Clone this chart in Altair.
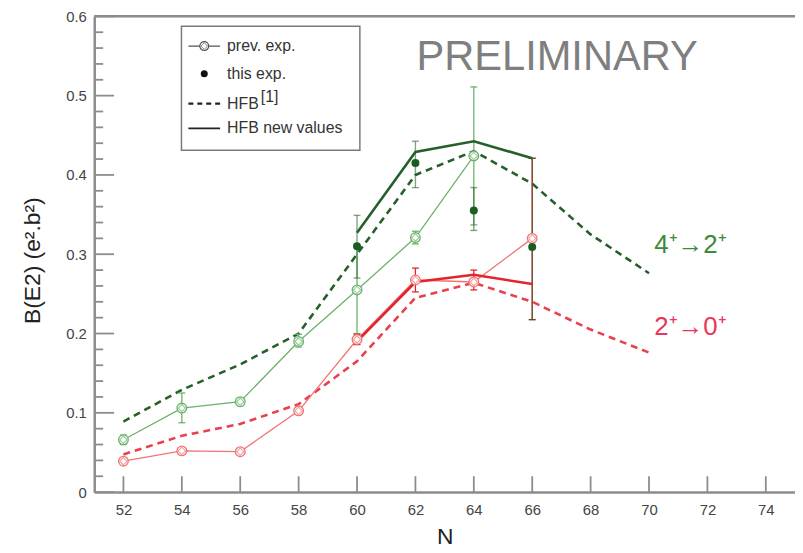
import altair as alt
import pandas as pd

# ---------------- data ----------------
# previous experiments, 4+ -> 2+
N_prev_42 = [52, 54, 56, 58, 60, 62, 64]
B_prev_42 = [0.066, 0.106, 0.114, 0.190, 0.255, 0.321, 0.424]
lo_prev_42 = [0.060, 0.0875, 0.109, 0.183, 0.200, 0.313, 0.337]
hi_prev_42 = [0.072, 0.125, 0.119, 0.199, 0.310, 0.329, 0.511]

# previous experiments, 2+ -> 0+
N_prev_20 = [52, 54, 56, 58, 60, 62, 64, 66]
B_prev_20 = [0.039, 0.052, 0.051, 0.1025, 0.1925, 0.2675, 0.265, 0.320]
lo_prev_20 = [0.035, 0.048, 0.047, 0.098, 0.186, 0.2525, 0.255, 0.2175]
hi_prev_20 = [0.043, 0.056, 0.055, 0.107, 0.199, 0.2825, 0.280, 0.421]

# this experiment (4+ -> 2+)
N_this = [60, 62, 64, 66]
B_this = [0.310, 0.415, 0.355, 0.309]
lo_this = [0.270, 0.384, 0.330, 0.2175]
hi_this = [0.349, 0.4425, 0.384, 0.421]

# HFB [1] (dashed)
N_hfb = [52, 54, 56, 58, 60, 62, 64, 66, 68, 70]
B_hfb_42 = [0.089, 0.129, 0.161, 0.200, 0.300, 0.400, 0.430, 0.389, 0.325, 0.276]
B_hfb_20 = [0.0475, 0.071, 0.086, 0.111, 0.165, 0.245, 0.264, 0.240, 0.205, 0.176]

# HFB new values (solid)
N_new = [60, 62, 64, 66]
B_new_42 = [0.327, 0.429, 0.4425, 0.421]
B_new_20 = [0.190, 0.265, 0.274, 0.2625]

# axes
x_tick_values = [52, 54, 56, 58, 60, 62, 64, 66, 68, 70, 72, 74]
y_major = [0.0, 0.1, 0.2, 0.3, 0.4, 0.5, 0.6]
y_minor = [round(m + k * 0.02, 2) for m in y_major[:-1] for k in (1, 2, 3, 4)]

# ---------------- styling ----------------
W, H = 707, 480
FONT = "Liberation Sans"
AX = "#8c8c8c"
G_LIGHT = "#6cb26c"
G_DARK = "#25602b"
G_DOT = "#1a5c22"
R_LIGHT = "#f07474"
R_DASH = "#e8404c"
R_SOLID = "#e3242b"

XS = alt.Scale(domain=[51, 75], nice=False, zero=False)
YS = alt.Scale(domain=[0, 0.6], nice=False, zero=False)
XA = alt.Axis(values=x_tick_values, format="d", ticks=False, tickSize=0, grid=False,
              labelPadding=11, labelFontSize=15, labelColor="#444", labelFont=FONT,
              domainColor=AX, domainWidth=2.5,
              titleFontSize=23, titleFont=FONT, titleFontWeight="normal", titleColor="#222",
              titleY=34, titleBaseline="top")
YA = alt.Axis(values=y_major, ticks=False, tickSize=0, grid=False,
              labelExpr="datum.value == 0 ? '0' : format(datum.value, '.1f')",
              labelPadding=8, labelFontSize=15, labelColor="#444", labelFont=FONT,
              domainColor=AX, domainWidth=2.5,
              titleFontSize=23, titleFont=FONT, titleFontWeight="normal", titleColor="#222",
              titleX=-50, titleY=246, titleAngle=270, titleBaseline="bottom", titleAlign="center")
XT = "N"
YT = "B(E2) (e².b²)"


def xe(f):
    return alt.X(f"{f}:Q", scale=XS, axis=XA, title=XT)


def ye(f):
    return alt.Y(f"{f}:Q", scale=YS, axis=YA, title=YT)


def frame(N, B, lo=None, hi=None):
    d = {"N": N, "B": B}
    if lo is not None:
        d["lo"] = lo
        d["hi"] = hi
    return pd.DataFrame(d)


prev42 = frame(N_prev_42, B_prev_42, lo_prev_42, hi_prev_42)
prev20 = frame(N_prev_20, B_prev_20, lo_prev_20, hi_prev_20)
this = frame(N_this, B_this, lo_this, hi_this)
hfb42 = frame(N_hfb, B_hfb_42)
hfb20 = frame(N_hfb, B_hfb_20)
new42 = frame(N_new, B_new_42)
new20 = frame(N_new, B_new_20)


def line(df, color, width, dash=None):
    kw = dict(color=color, strokeWidth=width, clip=True)
    if dash:
        kw["strokeDash"] = dash
    return alt.Chart(df).mark_line(**kw).encode(x=xe("N"), y=ye("B"))


def errbars(df, color, width=1.3, opacity=1.0):
    rules = alt.Chart(df).mark_rule(color=color, strokeWidth=width, opacity=opacity).encode(
        x=xe("N"), y=ye("lo"), y2="hi:Q")
    caps = alt.Chart(df).transform_fold(["lo", "hi"], as_=["k", "v"]).mark_tick(
        orient="horizontal", size=7, thickness=width, color=color, opacity=opacity).encode(
        x=xe("N"), y=ye("v"))
    return rules + caps


def open_pts(df, color):
    c = alt.Chart(df).mark_point(shape="circle", filled=False, size=95, strokeWidth=1.3,
                                 color=color, fill="white", fillOpacity=1).encode(x=xe("N"), y=ye("B"))
    d = alt.Chart(df).mark_point(shape="diamond", filled=False, size=55, strokeWidth=1.1,
                                 color=color).encode(x=xe("N"), y=ye("B"))
    return c + d


one = pd.DataFrame({"a": [0]})

ticks_major = alt.Chart(pd.DataFrame({"t": y_major})).mark_rule(color=AX, strokeWidth=1.8).encode(
    y=ye("t"), x=alt.value(0), x2=alt.value(20))
ticks_minor = alt.Chart(pd.DataFrame({"t": y_minor})).mark_rule(color=AX, strokeWidth=1.8).encode(
    y=ye("t"), x=alt.value(0), x2=alt.value(9))
ticks_x = alt.Chart(pd.DataFrame({"t": x_tick_values})).mark_rule(color=AX, strokeWidth=1.8).encode(
    x=xe("t"), y=alt.value(H), y2=alt.value(H - 16))
top_border = alt.Chart(one).mark_rule(color=AX, strokeWidth=2.5).encode(
    x=alt.value(0), x2=alt.value(W), y=alt.value(0))

prelim = alt.Chart(one).mark_text(text="PRELIMINARY", font=FONT, fontSize=42, color="#7f7f7f",
                                  align="center", baseline="alphabetic").encode(
    x=alt.value(467), y=alt.value(54))
lab42 = alt.Chart(one).mark_text(text="4⁺→2⁺", font=FONT, fontSize=26, color="#3a8a3a",
                                 align="left", baseline="alphabetic").encode(
    x=alt.value(565), y=alt.value(239))
lab20 = alt.Chart(one).mark_text(text="2⁺→0⁺", font=FONT, fontSize=26, color="#e8365a",
                                 align="left", baseline="alphabetic").encode(
    x=alt.value(565), y=alt.value(321))

# ---------------- legend (drawn) ----------------
LX0, LX1, LXC, LXT = 95, 127, 111, 134
rows = [30, 58, 88, 113]
leg_box = alt.Chart(one).mark_rect(fill="white", stroke="#7a7a7a", strokeWidth=1.5).encode(
    x=alt.value(88), x2=alt.value(268), y=alt.value(10), y2=alt.value(135))
leg_l1 = alt.Chart(one).mark_rule(color="#555", strokeWidth=1.2).encode(
    x=alt.value(LX0), x2=alt.value(LX1), y=alt.value(rows[0]))
leg_p1 = alt.Chart(one).mark_point(shape="circle", filled=False, size=80, color="#555",
                                   fill="white", fillOpacity=1, strokeWidth=1.2).encode(
    x=alt.value(LXC), y=alt.value(rows[0]))
leg_p1d = alt.Chart(one).mark_point(shape="diamond", filled=False, size=45, color="#555",
                                    strokeWidth=1.0).encode(x=alt.value(LXC), y=alt.value(rows[0]))
leg_p2 = alt.Chart(one).mark_circle(size=50, color="#111", opacity=1).encode(
    x=alt.value(LXC), y=alt.value(rows[1]))
leg_l3 = alt.Chart(one).mark_rule(color="#222", strokeWidth=2.2, strokeDash=[5, 4]).encode(
    x=alt.value(LX0), x2=alt.value(LX1), y=alt.value(rows[2]))
leg_l4 = alt.Chart(one).mark_rule(color="#222", strokeWidth=1.8).encode(
    x=alt.value(LX0), x2=alt.value(LX1), y=alt.value(rows[3]))


def leg_text(txt, x, y):
    return alt.Chart(one).mark_text(text=txt, font=FONT, fontSize=16, color="#333",
                                    align="left", baseline="middle").encode(
        x=alt.value(x), y=alt.value(y))


legend = (leg_box + leg_l1 + leg_p1 + leg_p1d + leg_p2 + leg_l3 + leg_l4
          + leg_text("prev. exp.", LXT, rows[0]) + leg_text("this exp.", LXT, rows[1])
          + leg_text("HFB", LXT, rows[2]) + leg_text("[1]", LXT + 34, rows[2] - 7)
          + leg_text("HFB new values", LXT, rows[3]))

chart = alt.layer(
    line(hfb42, G_DARK, 2.6, [7, 5]),
    line(hfb20, R_DASH, 2.6, [7, 5]),
    line(prev42, G_LIGHT, 1.3),
    line(prev20, R_LIGHT, 1.3),
    errbars(prev42, G_LIGHT),
    errbars(prev20, R_SOLID),
    errbars(this, G_DOT, 1.4, 0.55),
    line(new42, G_DARK, 2.6),
    line(new20, R_SOLID, 2.6),
    open_pts(prev42, G_LIGHT),
    open_pts(prev20, R_LIGHT),
    alt.Chart(this).mark_circle(size=65, color=G_DOT, opacity=1).encode(x=xe("N"), y=ye("B")),
    ticks_major, ticks_minor, ticks_x, top_border,
    prelim, lab42, lab20,
    legend,
).properties(
    width=W, height=H,
    autosize=alt.AutoSizeParams(type="none"),
    padding={"left": 87, "top": 6, "right": 0, "bottom": 58},
).configure_view(stroke=None).configure(background="white")

chart.save("out.html", embed_options={"renderer": "svg", "actions": False})
